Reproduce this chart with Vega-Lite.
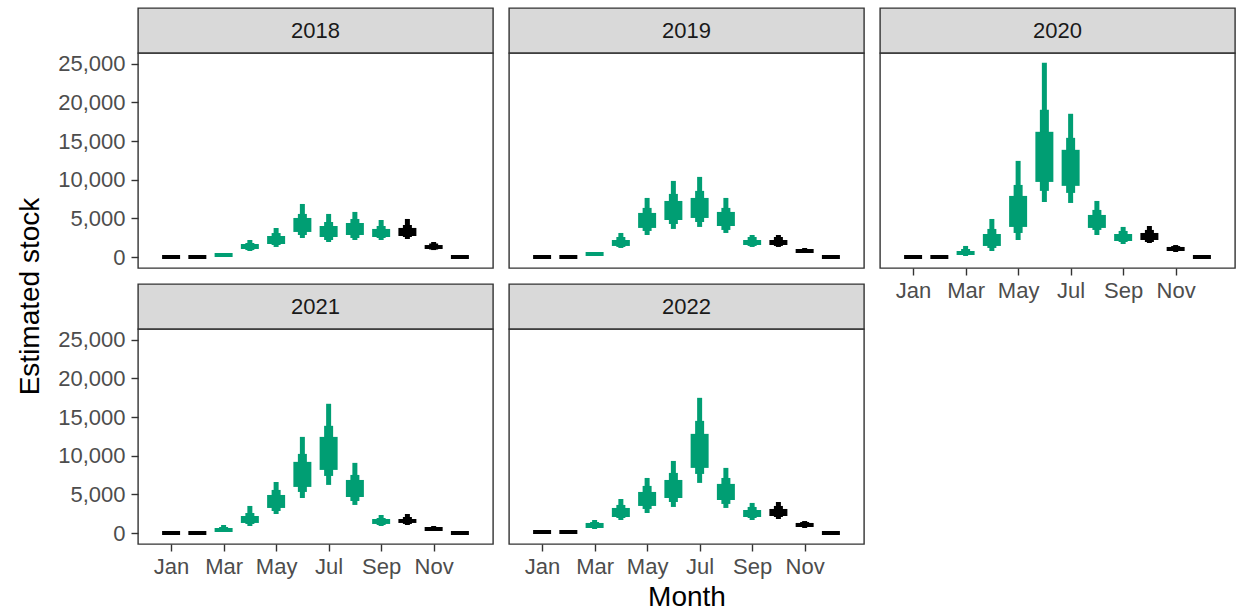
{
  "$schema": "https://vega.github.io/schema/vega-lite/v6.json",
  "padding": {"left": 15, "top": 7, "right": 0, "bottom": 0},
  "config": {
    "font": "Liberation Sans",
    "view": {"stroke": "#333333", "strokeWidth": 1.4},
    "axis": {"labelFont": "Liberation Sans", "labelFontSize": 22, "labelColor": "#4D4D4D", "tickColor": "#333333", "tickWidth": 1.4, "tickSize": 7, "domain": false, "grid": false, "titleFontSize": 28, "titleColor": "#000000", "titleFontWeight": "normal", "titleFont": "Liberation Sans"}
  },
  "datasets": {
    "stock": [
      {"year": 2018, "month": 1, "season": "closed", "lower95": -260, "upper95": 260, "lower80": -260, "upper80": 260, "lower50": -260, "upper50": 260},
      {"year": 2018, "month": 2, "season": "closed", "lower95": -260, "upper95": 260, "lower80": -260, "upper80": 260, "lower50": -260, "upper50": 260},
      {"year": 2018, "month": 3, "season": "open", "lower95": 0, "upper95": 520, "lower80": 0, "upper80": 520, "lower50": 0, "upper50": 520},
      {"year": 2018, "month": 4, "season": "open", "lower95": 780, "upper95": 2200, "lower80": 900, "upper80": 1810, "lower50": 1040, "upper50": 1680},
      {"year": 2018, "month": 5, "season": "open", "lower95": 1300, "upper95": 3750, "lower80": 1550, "upper80": 3100, "lower50": 1680, "upper50": 2720},
      {"year": 2018, "month": 6, "season": "open", "lower95": 2460, "upper95": 6860, "lower80": 2850, "upper80": 5570, "lower50": 3240, "upper50": 5050},
      {"year": 2018, "month": 7, "season": "open", "lower95": 1940, "upper95": 5570, "lower80": 2200, "upper80": 4530, "lower50": 2590, "upper50": 4010},
      {"year": 2018, "month": 8, "season": "open", "lower95": 2200, "upper95": 5830, "lower80": 2460, "upper80": 4920, "lower50": 2850, "upper50": 4400},
      {"year": 2018, "month": 9, "season": "open", "lower95": 2200, "upper95": 4790, "lower80": 2460, "upper80": 4010, "lower50": 2590, "upper50": 3630},
      {"year": 2018, "month": 10, "season": "closed", "lower95": 2330, "upper95": 4920, "lower80": 2590, "upper80": 4140, "lower50": 2720, "upper50": 3760},
      {"year": 2018, "month": 11, "season": "closed", "lower95": 900, "upper95": 1940, "lower80": 970, "upper80": 1750, "lower50": 1040, "upper50": 1550},
      {"year": 2018, "month": 12, "season": "closed", "lower95": -260, "upper95": 260, "lower80": -260, "upper80": 260, "lower50": -260, "upper50": 260},

      {"year": 2019, "month": 1, "season": "closed", "lower95": -260, "upper95": 260, "lower80": -260, "upper80": 260, "lower50": -260, "upper50": 260},
      {"year": 2019, "month": 2, "season": "closed", "lower95": -260, "upper95": 260, "lower80": -260, "upper80": 260, "lower50": -260, "upper50": 260},
      {"year": 2019, "month": 3, "season": "open", "lower95": 130, "upper95": 650, "lower80": 130, "upper80": 650, "lower50": 130, "upper50": 650},
      {"year": 2019, "month": 4, "season": "open", "lower95": 1170, "upper95": 3110, "lower80": 1300, "upper80": 2590, "lower50": 1430, "upper50": 2200},
      {"year": 2019, "month": 5, "season": "open", "lower95": 2850, "upper95": 7640, "lower80": 3370, "upper80": 6350, "lower50": 3760, "upper50": 5700},
      {"year": 2019, "month": 6, "season": "open", "lower95": 3630, "upper95": 9840, "lower80": 4270, "upper80": 8160, "lower50": 4790, "upper50": 7250},
      {"year": 2019, "month": 7, "season": "open", "lower95": 3890, "upper95": 10360, "lower80": 4530, "upper80": 8550, "lower50": 5050, "upper50": 7640},
      {"year": 2019, "month": 8, "season": "open", "lower95": 3110, "upper95": 7640, "lower80": 3500, "upper80": 6350, "lower50": 4010, "upper50": 5830},
      {"year": 2019, "month": 9, "season": "open", "lower95": 1300, "upper95": 2850, "lower80": 1430, "upper80": 2590, "lower50": 1550, "upper50": 2200},
      {"year": 2019, "month": 10, "season": "closed", "lower95": 1300, "upper95": 2850, "lower80": 1430, "upper80": 2590, "lower50": 1550, "upper50": 2200},
      {"year": 2019, "month": 11, "season": "closed", "lower95": 520, "upper95": 1170, "lower80": 520, "upper80": 1040, "lower50": 520, "upper50": 1040},
      {"year": 2019, "month": 12, "season": "closed", "lower95": -260, "upper95": 260, "lower80": -260, "upper80": 260, "lower50": -260, "upper50": 260},

      {"year": 2020, "month": 1, "season": "closed", "lower95": -260, "upper95": 260, "lower80": -260, "upper80": 260, "lower50": -260, "upper50": 260},
      {"year": 2020, "month": 2, "season": "closed", "lower95": -260, "upper95": 260, "lower80": -260, "upper80": 260, "lower50": -260, "upper50": 260},
      {"year": 2020, "month": 3, "season": "open", "lower95": 130, "upper95": 1430, "lower80": 260, "upper80": 1040, "lower50": 260, "upper50": 780},
      {"year": 2020, "month": 4, "season": "open", "lower95": 780, "upper95": 4920, "lower80": 1170, "upper80": 3630, "lower50": 1430, "upper50": 2980},
      {"year": 2020, "month": 5, "season": "open", "lower95": 2200, "upper95": 12430, "lower80": 3110, "upper80": 9320, "lower50": 3890, "upper50": 7900},
      {"year": 2020, "month": 6, "season": "open", "lower95": 7120, "upper95": 25120, "lower80": 8550, "upper80": 19040, "lower50": 9710, "upper50": 16190},
      {"year": 2020, "month": 7, "season": "open", "lower95": 6990, "upper95": 18520, "lower80": 8290, "upper80": 15410, "lower50": 9200, "upper50": 13860},
      {"year": 2020, "month": 8, "season": "open", "lower95": 2850, "upper95": 7250, "lower80": 3500, "upper80": 6090, "lower50": 3760, "upper50": 5440},
      {"year": 2020, "month": 9, "season": "open", "lower95": 1680, "upper95": 3890, "lower80": 1940, "upper80": 3370, "lower50": 2070, "upper50": 2980},
      {"year": 2020, "month": 10, "season": "closed", "lower95": 1810, "upper95": 4010, "lower80": 1940, "upper80": 3500, "lower50": 2200, "upper50": 3110},
      {"year": 2020, "month": 11, "season": "closed", "lower95": 650, "upper95": 1550, "lower80": 780, "upper80": 1420, "lower50": 780, "upper50": 1300},
      {"year": 2020, "month": 12, "season": "closed", "lower95": -260, "upper95": 260, "lower80": -260, "upper80": 260, "lower50": -260, "upper50": 260},

      {"year": 2021, "month": 1, "season": "closed", "lower95": -260, "upper95": 260, "lower80": -260, "upper80": 260, "lower50": -260, "upper50": 260},
      {"year": 2021, "month": 2, "season": "closed", "lower95": -260, "upper95": 260, "lower80": -260, "upper80": 260, "lower50": -260, "upper50": 260},
      {"year": 2021, "month": 3, "season": "open", "lower95": 130, "upper95": 1040, "lower80": 130, "upper80": 780, "lower50": 130, "upper50": 650},
      {"year": 2021, "month": 4, "season": "open", "lower95": 910, "upper95": 3500, "lower80": 1170, "upper80": 2590, "lower50": 1300, "upper50": 2200},
      {"year": 2021, "month": 5, "season": "open", "lower95": 2460, "upper95": 6600, "lower80": 2850, "upper80": 5570, "lower50": 3240, "upper50": 4920},
      {"year": 2021, "month": 6, "season": "open", "lower95": 4530, "upper95": 12430, "lower80": 5310, "upper80": 10230, "lower50": 5960, "upper50": 9200},
      {"year": 2021, "month": 7, "season": "open", "lower95": 6220, "upper95": 16710, "lower80": 7380, "upper80": 13860, "lower50": 8160, "upper50": 12430},
      {"year": 2021, "month": 8, "season": "open", "lower95": 3630, "upper95": 9070, "lower80": 4140, "upper80": 7510, "lower50": 4660, "upper50": 6860},
      {"year": 2021, "month": 9, "season": "open", "lower95": 910, "upper95": 2330, "lower80": 1040, "upper80": 1940, "lower50": 1170, "upper50": 1810},
      {"year": 2021, "month": 10, "season": "closed", "lower95": 1040, "upper95": 2460, "lower80": 1170, "upper80": 2070, "lower50": 1300, "upper50": 1810},
      {"year": 2021, "month": 11, "season": "closed", "lower95": 260, "upper95": 910, "lower80": 260, "upper80": 780, "lower50": 260, "upper50": 780},
      {"year": 2021, "month": 12, "season": "closed", "lower95": -260, "upper95": 260, "lower80": -260, "upper80": 260, "lower50": -260, "upper50": 260},

      {"year": 2022, "month": 1, "season": "closed", "lower95": -130, "upper95": 390, "lower80": -130, "upper80": 390, "lower50": -130, "upper50": 390},
      {"year": 2022, "month": 2, "season": "closed", "lower95": -130, "upper95": 390, "lower80": -130, "upper80": 390, "lower50": -130, "upper50": 390},
      {"year": 2022, "month": 3, "season": "open", "lower95": 520, "upper95": 1680, "lower80": 650, "upper80": 1420, "lower50": 650, "upper50": 1300},
      {"year": 2022, "month": 4, "season": "open", "lower95": 1680, "upper95": 4400, "lower80": 1940, "upper80": 3630, "lower50": 2070, "upper50": 3240},
      {"year": 2022, "month": 5, "season": "open", "lower95": 2590, "upper95": 7120, "lower80": 3110, "upper80": 6090, "lower50": 3500, "upper50": 5310},
      {"year": 2022, "month": 6, "season": "open", "lower95": 3370, "upper95": 9320, "lower80": 4010, "upper80": 7770, "lower50": 4530, "upper50": 6860},
      {"year": 2022, "month": 7, "season": "open", "lower95": 6480, "upper95": 17480, "lower80": 7640, "upper80": 14500, "lower50": 8420, "upper50": 12820},
      {"year": 2022, "month": 8, "season": "open", "lower95": 3240, "upper95": 8420, "lower80": 3760, "upper80": 7120, "lower50": 4270, "upper50": 6350},
      {"year": 2022, "month": 9, "season": "open", "lower95": 1680, "upper95": 3890, "lower80": 1940, "upper80": 3370, "lower50": 2070, "upper50": 2980},
      {"year": 2022, "month": 10, "season": "closed", "lower95": 1810, "upper95": 4010, "lower80": 2070, "upper80": 3500, "lower50": 2200, "upper50": 3110},
      {"year": 2022, "month": 11, "season": "closed", "lower95": 650, "upper95": 1550, "lower80": 780, "upper80": 1420, "lower50": 780, "upper50": 1300},
      {"year": 2022, "month": 12, "season": "closed", "lower95": -260, "upper95": 260, "lower80": -260, "upper80": 260, "lower50": -260, "upper50": 260}
    ],
    "blank": [{"t": ""}]
  },
  "bounds": "flush",
  "columns": 3,
  "spacing": {"row": 0, "column": 16},
  "concat": [
    {"width": 355, "height": 45, "view": {"fill": "#D9D9D9", "stroke": "#333333", "strokeWidth": 1.4},
     "data": {"name": "stock"}, "transform": [{"filter": "datum.year == 2018 && datum.month == 1"}],
     "mark": {"type": "text", "fontSize": 22, "color": "#1A1A1A"},
     "encoding": {"text": {"field": "year", "type": "nominal"}}},
    {"width": 355, "height": 45, "view": {"fill": "#D9D9D9", "stroke": "#333333", "strokeWidth": 1.4},
     "data": {"name": "stock"}, "transform": [{"filter": "datum.year == 2019 && datum.month == 1"}],
     "mark": {"type": "text", "fontSize": 22, "color": "#1A1A1A"},
     "encoding": {"text": {"field": "year", "type": "nominal"}}},
    {"width": 355, "height": 45, "view": {"fill": "#D9D9D9", "stroke": "#333333", "strokeWidth": 1.4},
     "data": {"name": "stock"}, "transform": [{"filter": "datum.year == 2020 && datum.month == 1"}],
     "mark": {"type": "text", "fontSize": 22, "color": "#1A1A1A"},
     "encoding": {"text": {"field": "year", "type": "nominal"}}},

    {"width": 355, "height": 215,
     "data": {"name": "stock"}, "transform": [{"filter": "datum.year == 2018"}],
     "encoding": {
       "x": {"field": "month", "type": "quantitative", "scale": {"domain": [-0.07, 13.07], "nice": false, "zero": false}, "axis": null},
       "color": {"field": "season", "type": "nominal", "scale": {"domain": ["open", "closed"], "range": ["#009E73", "#000000"]}, "legend": null}
     },
     "layer": [
       {"mark": {"type": "bar", "width": 5}, "encoding": {"y": {"field": "lower95", "type": "quantitative", "title": "Estimated stock", "scale": {"domain": [-1420, 26380], "nice": false, "zero": false}, "axis": {"values": [0, 5000, 10000, 15000, 20000, 25000], "labelExpr": "format(datum.value, ',')", "labelPadding": 6, "titleX": -108, "titleY": 243, "titleAngle": 270, "titleBaseline": "middle", "titleAlign": "center"}}, "y2": {"field": "upper95"}}},
       {"mark": {"type": "bar", "width": 9}, "encoding": {"y": {"field": "lower80", "type": "quantitative", "title": "Estimated stock", "axis": {"values": [0, 5000, 10000, 15000, 20000, 25000], "labelExpr": "format(datum.value, ',')", "labelPadding": 6, "titleX": -108, "titleY": 243, "titleAngle": 270, "titleBaseline": "middle", "titleAlign": "center"}}, "y2": {"field": "upper80"}}},
       {"mark": {"type": "bar", "width": 18}, "encoding": {"y": {"field": "lower50", "type": "quantitative", "title": "Estimated stock", "axis": {"values": [0, 5000, 10000, 15000, 20000, 25000], "labelExpr": "format(datum.value, ',')", "labelPadding": 6, "titleX": -108, "titleY": 243, "titleAngle": 270, "titleBaseline": "middle", "titleAlign": "center"}}, "y2": {"field": "upper50"}}}
     ]},
    {"width": 355, "height": 215,
     "data": {"name": "stock"}, "transform": [{"filter": "datum.year == 2019"}],
     "encoding": {
       "x": {"field": "month", "type": "quantitative", "scale": {"domain": [-0.07, 13.07], "nice": false, "zero": false}, "axis": null},
       "color": {"field": "season", "type": "nominal", "scale": {"domain": ["open", "closed"], "range": ["#009E73", "#000000"]}, "legend": null}
     },
     "layer": [
       {"mark": {"type": "bar", "width": 5}, "encoding": {"y": {"field": "lower95", "type": "quantitative", "scale": {"domain": [-1420, 26380], "nice": false, "zero": false}, "axis": null}, "y2": {"field": "upper95"}}},
       {"mark": {"type": "bar", "width": 9}, "encoding": {"y": {"field": "lower80", "type": "quantitative", "axis": null}, "y2": {"field": "upper80"}}},
       {"mark": {"type": "bar", "width": 18}, "encoding": {"y": {"field": "lower50", "type": "quantitative", "axis": null}, "y2": {"field": "upper50"}}}
     ]},
    {"width": 355, "height": 215,
     "data": {"name": "stock"}, "transform": [{"filter": "datum.year == 2020"}],
     "encoding": {
       "x": {"field": "month", "type": "quantitative", "scale": {"domain": [-0.07, 13.07], "nice": false, "zero": false}, "axis": {"values": [1, 3, 5, 7, 9, 11], "labelExpr": "['Jan','Feb','Mar','Apr','May','Jun','Jul','Aug','Sep','Oct','Nov','Dec'][datum.value - 1]", "title": null, "labelPadding": 5, "labelFlush": false}},
       "color": {"field": "season", "type": "nominal", "scale": {"domain": ["open", "closed"], "range": ["#009E73", "#000000"]}, "legend": null}
     },
     "layer": [
       {"mark": {"type": "bar", "width": 5}, "encoding": {"y": {"field": "lower95", "type": "quantitative", "scale": {"domain": [-1420, 26380], "nice": false, "zero": false}, "axis": null}, "y2": {"field": "upper95"}}},
       {"mark": {"type": "bar", "width": 9}, "encoding": {"y": {"field": "lower80", "type": "quantitative", "axis": null}, "y2": {"field": "upper80"}}},
       {"mark": {"type": "bar", "width": 18}, "encoding": {"y": {"field": "lower50", "type": "quantitative", "axis": null}, "y2": {"field": "upper50"}}}
     ]},

    {"width": 355, "height": 16, "view": {"stroke": null}, "data": {"name": "blank"}, "mark": {"type": "text"}, "encoding": {"text": {"field": "t", "type": "nominal"}}},
    {"width": 355, "height": 16, "view": {"stroke": null}, "data": {"name": "blank"}, "mark": {"type": "text"}, "encoding": {"text": {"field": "t", "type": "nominal"}}},
    {"width": 355, "height": 16, "view": {"stroke": null}, "data": {"name": "blank"}, "mark": {"type": "text"}, "encoding": {"text": {"field": "t", "type": "nominal"}}},

    {"width": 355, "height": 45, "view": {"fill": "#D9D9D9", "stroke": "#333333", "strokeWidth": 1.4},
     "data": {"name": "stock"}, "transform": [{"filter": "datum.year == 2021 && datum.month == 1"}],
     "mark": {"type": "text", "fontSize": 22, "color": "#1A1A1A"},
     "encoding": {"text": {"field": "year", "type": "nominal"}}},
    {"width": 355, "height": 45, "view": {"fill": "#D9D9D9", "stroke": "#333333", "strokeWidth": 1.4},
     "data": {"name": "stock"}, "transform": [{"filter": "datum.year == 2022 && datum.month == 1"}],
     "mark": {"type": "text", "fontSize": 22, "color": "#1A1A1A"},
     "encoding": {"text": {"field": "year", "type": "nominal"}}},
    {"width": 355, "height": 45, "view": {"stroke": null}, "data": {"name": "blank"}, "mark": {"type": "text"}, "encoding": {"text": {"field": "t", "type": "nominal"}}},

    {"width": 355, "height": 215,
     "data": {"name": "stock"}, "transform": [{"filter": "datum.year == 2021"}],
     "encoding": {
       "x": {"field": "month", "type": "quantitative", "scale": {"domain": [-0.07, 13.07], "nice": false, "zero": false}, "axis": {"values": [1, 3, 5, 7, 9, 11], "labelExpr": "['Jan','Feb','Mar','Apr','May','Jun','Jul','Aug','Sep','Oct','Nov','Dec'][datum.value - 1]", "title": null, "labelPadding": 5, "labelFlush": false}},
       "color": {"field": "season", "type": "nominal", "scale": {"domain": ["open", "closed"], "range": ["#009E73", "#000000"]}, "legend": null}
     },
     "layer": [
       {"mark": {"type": "bar", "width": 5}, "encoding": {"y": {"field": "lower95", "type": "quantitative", "title": null, "scale": {"domain": [-1420, 26380], "nice": false, "zero": false}, "axis": {"values": [0, 5000, 10000, 15000, 20000, 25000], "labelExpr": "format(datum.value, ',')", "labelPadding": 6}}, "y2": {"field": "upper95"}}},
       {"mark": {"type": "bar", "width": 9}, "encoding": {"y": {"field": "lower80", "type": "quantitative", "title": null, "axis": {"values": [0, 5000, 10000, 15000, 20000, 25000], "labelExpr": "format(datum.value, ',')", "labelPadding": 6}}, "y2": {"field": "upper80"}}},
       {"mark": {"type": "bar", "width": 18}, "encoding": {"y": {"field": "lower50", "type": "quantitative", "title": null, "axis": {"values": [0, 5000, 10000, 15000, 20000, 25000], "labelExpr": "format(datum.value, ',')", "labelPadding": 6}}, "y2": {"field": "upper50"}}}
     ]},
    {"width": 355, "height": 215,
     "data": {"name": "stock"}, "transform": [{"filter": "datum.year == 2022"}],
     "encoding": {
       "x": {"field": "month", "type": "quantitative", "scale": {"domain": [-0.07, 13.07], "nice": false, "zero": false}, "axis": {"values": [1, 3, 5, 7, 9, 11], "labelExpr": "['Jan','Feb','Mar','Apr','May','Jun','Jul','Aug','Sep','Oct','Nov','Dec'][datum.value - 1]", "title": "Month", "labelPadding": 5, "titlePadding": 6, "labelFlush": false}},
       "color": {"field": "season", "type": "nominal", "scale": {"domain": ["open", "closed"], "range": ["#009E73", "#000000"]}, "legend": null}
     },
     "layer": [
       {"mark": {"type": "bar", "width": 5}, "encoding": {"y": {"field": "lower95", "type": "quantitative", "scale": {"domain": [-1420, 26380], "nice": false, "zero": false}, "axis": null}, "y2": {"field": "upper95"}}},
       {"mark": {"type": "bar", "width": 9}, "encoding": {"y": {"field": "lower80", "type": "quantitative", "axis": null}, "y2": {"field": "upper80"}}},
       {"mark": {"type": "bar", "width": 18}, "encoding": {"y": {"field": "lower50", "type": "quantitative", "axis": null}, "y2": {"field": "upper50"}}}
     ]}
  ]
}
